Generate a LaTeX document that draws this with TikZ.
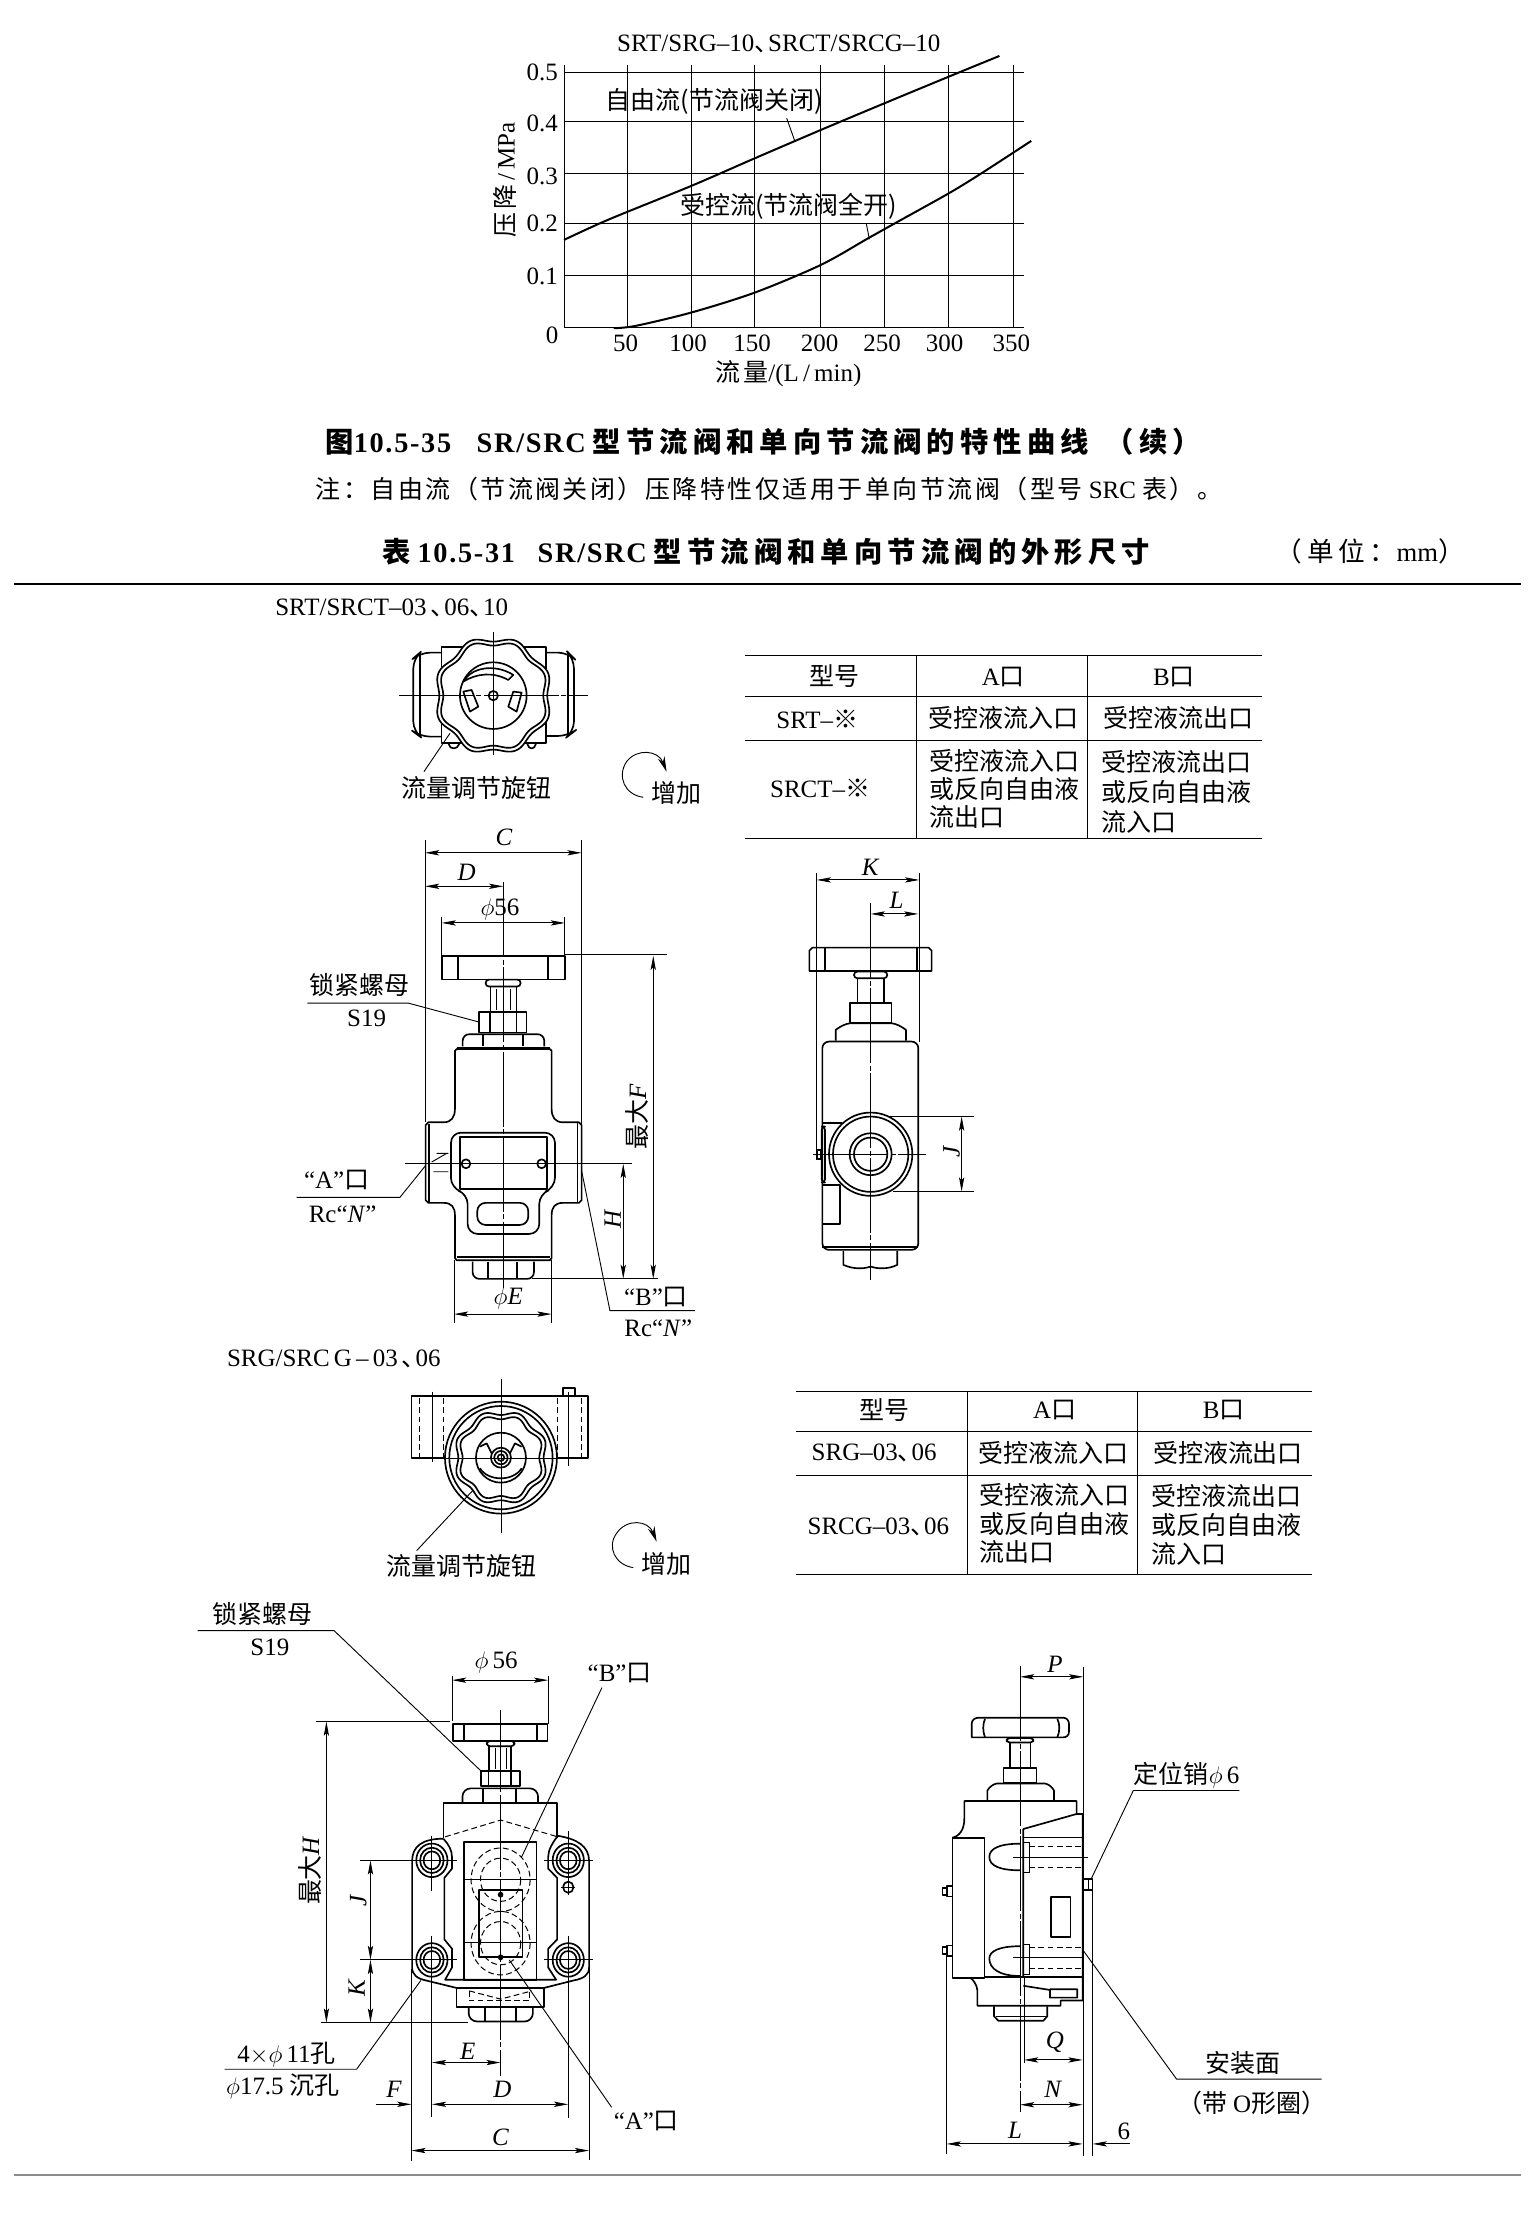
\documentclass[tikz,border=0pt]{standalone}
\usepackage{fontspec}
\setmainfont{Liberation Serif}
\newfontfamily\cjk{Noto Sans CJK SC}
\newfontfamily\cjkw[LetterSpace=18]{Noto Sans CJK SC}
\newfontfamily\cjkn[LetterSpace=10]{Noto Sans CJK SC}
\newfontfamily\latw[LetterSpace=6]{Liberation Serif}
\usetikzlibrary{arrows.meta}

\tikzset{
    outline/.style={line width=1pt, line join=round},
    hairline/.style={line width=0.55pt},
    centerline/.style={hairline, dash pattern=on 45pt off 1.5pt on 3pt off 1.5pt},
    hidden/.style={line width=0.6pt, dash pattern=on 3.5pt off 2pt},
    dimline/.style={hairline, <->},
    lbl/.style={font=\fontsize{15}{17.5}\selectfont, inner sep=0pt},
    chartview/.style={shift={(324.1,7)}, x=0.008385cm, y=-0.007035cm},
    topa/.style={shift={(175.9,415.1)}, x=0.007035cm, y=-0.007035cm},
    fronta/.style={shift={(197,576.9)}, x=0.007035cm, y=-0.00729cm},
    sidea/.style={shift={(548.8,598)}, x=0.007035cm, y=-0.007035cm},
    topb/.style={shift={(154.8,942.8)}, x=0.007035cm, y=-0.007035cm},
    frontb/.style={shift={(133.7,1125.7)}, x=0.007329cm, y=-0.007875cm},
    sideb/.style={shift={(647.3,1153.9)}, x=0.007035cm, y=-0.00738cm},
}
\newcommand{\zh}[1]{{\cjk #1}}
\newcommand{\dun}{\makebox[0.55em][l]{\zh{、}}}
\newcommand{\waveknob}[4]{%
    \draw[outline, fill=white, domain=0:360, samples=145]
        plot ({#1+(#3+#4*cos(8*(\x-22.5)))*cos(\x)},{#2+(#3+#4*cos(8*(\x-22.5)))*sin(\x)}) -- cycle;}

\begin{document}
\begin{tikzpicture}[x=0.03cm, y=-0.03cm, >={Stealth[length=3mm,width=1.1mm,inset=0.6mm]}]
    \useasboundingbox (0,0) rectangle (1080,1564.06);

    % Chart
    \begin{scope}[chartview]
        \foreach \x in {420,580,740,906,1066,1228,1390}
            \draw[hairline] (\x,165) -- (\x,952);
        \draw[hairline] (260,165) -- (260,952);
        \foreach \y in {187,334,492,640,797,952}
            \draw[hairline] (260,\y) -- (1416,\y);
        \draw[line width=1.2pt] plot[smooth] coordinates {(260,690) (370,630) (580,528) (740,445) (906,360) (1066,280) (1228,200) (1355,138)};
        \draw[line width=1.2pt] plot[smooth] coordinates {(385,955) (440,948) (580,908) (740,848) (906,765) (1025,685) (1100,635) (1228,550) (1310,490) (1435,393)};
        \draw[hairline] (820,325) -- (840,392);
        \draw[hairline] (1020,640) -- (1028,688);
        \node[lbl] (chart title) at (800,103) {SRT/SRG--10\dun SRCT/SRCG--10};
        \node[lbl] (free) at (638,275) {\zh{自由流(节流阀关闭)}};
        \node[lbl] (ctrl) at (825,590) {\zh{受控流(节流阀全开)}};
        \node[lbl] (p5) at (205,187) {0.5};
        \node[lbl] (p4) at (205,340) {0.4};
        \node[lbl] (p3) at (205,500) {0.3};
        \node[lbl] (p2) at (205,640) {0.2};
        \node[lbl] (p1) at (205,800) {0.1};
        \node[lbl] (p0) at (230,975) {0};
        \foreach \x/\v in {415/50,572/100,733/150,903/200,1060/250,1217/300,1385/350}
            \node[lbl] (q\v) at (\x,1000) {\v};
        \node[lbl, rotate=90] (yname) at (112,510) {{\cjkn 压降}\,/\,MPa};
        \node[lbl] (xname) at (825,1092) {{\cjkn 流量}/(L\,/\,min)};
    \end{scope}

    % Captions
    \node[font=\fontsize{17}{20}\selectfont\bfseries, inner sep=0pt] (cap) at (537,311)
        {{\cjkw 图}{\latw 10.5-35}\hspace{0.9em}{\latw SR/SRC} {\cjkw 型节流阀和单向节流阀的特性曲线}\hspace{0.6em}{\cjkw （续）}};
    \node[font=\fontsize{15}{18}\selectfont, inner sep=0pt] (note) at (541,344)
        {{\cjkn 注：自由流（节流阀关闭）压降特性仅适用于单向节流阀（型号} SRC {\cjkn 表）。}};
    \node[font=\fontsize{17}{20}\selectfont\bfseries, inner sep=0pt] (tabcap) at (539,388)
        {{\cjkw 表} {\latw 10.5-31}\hspace{0.8em}{\latw SR/SRC} {\cjkw 型节流阀和单向节流阀的外形尺寸}};
    \node[font=\fontsize{16}{19}\selectfont, inner sep=0pt] (unit) at (964,388) {{\cjkw （单位：}mm{\cjkw ）}};
    \draw[line width=1.3pt] (10,411) -- (1070,411);
    \draw[line width=1.2pt, black!45] (10,1530) -- (1070,1530);

    % Top view of the SRT valve
    \begin{scope}[topa]
        \draw[outline, rounded corners=6pt] (575,188) -- (510,188) -- (490,205) -- (490,425) -- (510,440) -- (575,440);
        \draw[outline, rounded corners=6pt] (888,188) -- (955,188) -- (972,205) -- (972,425) -- (955,438) -- (888,438);
        \draw[outline] (510,190) -- (510,438);
        \draw[outline] (955,190) -- (955,438);
        \draw[outline] (575,172) rectangle (888,460);
        \draw[outline] (596,462) .. controls (600,480) and (622,480) .. (628,462);
        \draw[outline] (832,462) .. controls (836,480) and (854,480) .. (858,462);
        \waveknob{730}{317}{170}{8}
        \waveknob{730}{317}{158}{8}
        \draw[outline] (730,317) circle (100);
        \draw[outline] (730,317) circle (14);
        \draw[outline] (640,275) .. controls (670,225) and (745,225) .. (790,255) -- (775,270) .. controls (730,245) and (680,250) .. cycle;
        \draw[outline] (640,305) -- (665,300) -- (685,350) -- (660,365) -- cycle;
        \draw[outline] (790,305) -- (815,308) -- (800,365) -- (775,350) -- cycle;
        \draw[centerline] (447,317) -- (1015,317);
        \draw[hairline] (730,127) -- (730,495);
        \draw[hairline] (522,545) -- (600,430);
        \draw[hairline, -{Stealth[length=3.2mm,width=1.5mm]}] (1180,622) .. controls (1125,615) and (1100,560) .. (1130,515) .. controls (1160,475) and (1225,480) .. (1250,545);
        \node[lbl, anchor=west] (srt) at (75,55) {SRT/SRCT--03\,\dun 06\dun 10};
        \node[lbl] (knob a) at (680,595) {\zh{流量调节旋钮}};
        \node[lbl] (inc a) at (1280,610) {\zh{增加}};
    \end{scope}

    % Port table of the SRT valve
    \draw[hairline] (524,461) -- (888,461) (524,490) -- (888,490) (524,521) -- (888,521) (524,590) -- (888,590);
    \draw[hairline] (645,461) -- (645,590) (765,461) -- (765,590);
    \node[lbl] (t1 head) at (587,476) {\zh{型号}};
    \node[lbl] (t1 a) at (706,476) {A\zh{口}};
    \node[lbl] (t1 b) at (826,476) {B\zh{口}};
    \node[lbl] (t1 srt) at (575,506) {SRT--\zh{※}};
    \node[lbl] (t1 srt a) at (706,505) {\zh{受控液流入口}};
    \node[lbl] (t1 srt b) at (829,505) {\zh{受控液流出口}};
    \node[lbl] (t1 srct) at (577,555) {SRCT--\zh{※}};
    \node[lbl, anchor=west, align=left, font=\fontsize{15}{17}\selectfont] (t1 srct a) at (654,555) {\zh{受控液流入口}\\\zh{或反向自由液}\\\zh{流出口}};
    \node[lbl, anchor=west, align=left, font=\fontsize{15}{18}\selectfont] (t1 srct b) at (775,557) {\zh{受控液流出口}\\\zh{或反向自由液}\\\zh{流入口}};

    % Front view of the SRT valve
    \begin{scope}[fronta]
        \draw[outline] (487,393) rectangle (855,462);
        \draw[outline] (535,393) -- (535,462) (805,393) -- (805,462);
        \draw[outline, rounded corners=2pt] (617,462) rectangle (722,482);
        \draw[outline] (632,482) -- (632,555) (710,482) -- (710,555);
        \draw[hairline] (650,490) -- (650,550) (692,490) -- (692,550);
        \draw[outline] (598,555) rectangle (740,615);
        \draw[outline] (630,555) -- (630,615) (710,555) -- (710,615);
        \draw[outline, rounded corners=4pt] (548,655) -- (548,620) -- (793,620) -- (793,655);
        \draw[outline] (610,620) -- (610,655) (730,620) -- (730,655);
        \draw[outline] (530,660) -- (810,660);
        \draw[outline] (525,668) -- (525,835) .. controls (525,860) and (515,875) .. (490,875) -- (445,875) -- (437,883) -- (437,1100) -- (445,1108) -- (490,1108) .. controls (515,1108) and (525,1120) .. (525,1145) -- (525,1268) -- (530,1274) -- (810,1274) -- (815,1268) -- (815,1145) .. controls (815,1120) and (825,1108) .. (850,1108) -- (897,1108) -- (905,1100) -- (905,883) -- (897,875) -- (850,875) .. controls (825,875) and (815,860) .. (815,835) -- (815,668) -- (810,663) -- (530,663) -- cycle;
        \draw[outline] (530,1265) -- (810,1265);
        \draw[outline] (447,880) -- (447,1105) (893,878) -- (893,1108);
        \draw[outline, rounded corners=4pt] (578,1278) -- (578,1328) -- (762,1328) -- (762,1278);
        \draw[outline] (625,1278) -- (625,1325) (712,1278) -- (712,1325);
        \draw[outline, rounded corners=6pt] (513,905) -- (825,905) -- (825,1065) -- (778,1082) -- (778,1198) -- (563,1198) -- (563,1082) -- (513,1065) -- cycle;
        \draw[outline] (540,918) rectangle (802,1068);
        \draw[outline, rounded corners=5pt] (592,1108) rectangle (745,1172);
        \draw[outline] (558,995) circle (13) (785,995) circle (13);
        \draw[hairline] (455,990) -- (500,965) (470,965) -- (505,965) (460,1018) -- (505,1018);
        \draw[centerline] (670,180) -- (670,1355);
        \draw[hairline] (375,995) -- (1055,995);
        % Dimensions
        \draw[hairline] (435,58) -- (435,875) (905,58) -- (905,880);
        \draw[dimline] (435,95) -- (905,95);
        \draw[dimline] (435,192) -- (670,192);
        \draw[hairline] (485,280) -- (485,393) (855,280) -- (855,393);
        \draw[dimline] (485,298) -- (855,298);
        \draw[hairline] (855,390) -- (1160,390) (755,1328) -- (1135,1328) (905,995) -- (1055,995);
        \draw[dimline] (1120,393) -- (1120,1328);
        \draw[dimline] (1030,995) -- (1030,1328);
        \draw[hairline] (522,1272) -- (522,1455) (815,1272) -- (815,1455);
        \draw[dimline] (522,1430) -- (815,1430);
        \draw[hairline] (82,530) -- (385,530) -- (598,585);
        \draw[hairline] (50,1092) -- (360,1092) -- (437,1000);
        \draw[hairline] (905,1015) -- (990,1420) -- (1245,1420);
        \node[lbl] (c a) at (672,50) {\textit{C}};
        \node[lbl] (d a) at (560,152) {\textit{D}};
        \node[lbl] (phi a) at (660,258) {$\phi$56};
        \node[lbl] (nut a) at (238,478) {\zh{锁紧螺母}};
        \node[lbl] (s a) at (260,575) {S19};
        \node[lbl] (port a) at (170,1042) {“A”\zh{口}};
        \node[lbl] (rc a) at (188,1140) {Rc“\textit{N}”};
        \node[lbl, rotate=90] (h a) at (998,1155) {\textit{H}};
        \node[lbl, rotate=90] (f a) at (1070,860) {\zh{最大}\textit{F}};
        \node[lbl] (e a) at (685,1385) {$\phi$\textit{E}};
        \node[lbl] (port b) at (1128,1380) {“B”\zh{口}};
        \node[lbl] (rc b) at (1135,1470) {Rc“\textit{N}”};
    \end{scope}

    % Side view of the SRT valve
    \begin{scope}[sidea]
        \draw[outline] (88,363) -- (88,302) -- (97,293) -- (446,293) -- (455,302) -- (455,363) -- cycle;
        \draw[outline] (135,293) -- (135,363) (412,293) -- (412,363);
        \draw[outline, rounded corners=2pt] (222,365) rectangle (322,385);
        \draw[outline] (232,385) -- (232,460) (312,385) -- (312,460);
        \draw[outline] (210,460) rectangle (335,518);
        \draw[outline] (167,572) -- (167,540) .. controls (180,530) and (195,522) .. (210,520) -- (335,520) .. controls (350,522) and (365,530) .. (378,540) -- (378,572);
        \draw[outline, rounded corners=4pt] (127,575) -- (415,575) -- (415,1200) -- (127,1200) -- cycle;
        \draw[outline] (127,1192) -- (415,1192);
        \draw[outline] (190,1203) -- (190,1245) .. controls (220,1258) and (250,1258) .. (272,1250) .. controls (295,1258) and (325,1258) .. (352,1245) -- (352,1203);
        \draw[outline] (272,800) -- (415,800) (340,1025) -- (415,1025);
        \draw[outline] (127,820) -- (185,820);
        \draw[outline, rounded corners=2pt] (125,830) rectangle (135,998);
        \draw[outline] (127,1005) -- (180,1005) -- (180,1122) -- (130,1122);
        \draw[outline] (112,900) rectangle (122,928);
        \draw[outline, fill=white] (272,913) circle (125);
        \draw[outline] (272,913) circle (113);
        \draw[outline] (272,913) circle (63);
        \draw[outline] (272,913) circle (50);
        \draw[centerline] (272,160) -- (272,1290);
        \draw[centerline] (100,913) -- (438,913);
        % Dimensions
        \draw[hairline] (110,68) -- (110,930) (418,68) -- (418,575);
        \draw[dimline] (110,90) -- (418,90);
        \draw[dimline] (272,192) -- (415,192);
        \draw[hairline] (415,800) -- (582,800) (415,1025) -- (582,1025);
        \draw[dimline] (545,800) -- (545,1025);
        \node[lbl] (k a) at (272,52) {\textit{K}};
        \node[lbl] (l a) at (350,150) {\textit{L}};
        \node[lbl, rotate=90] (j a) at (515,905) {\textit{J}};
    \end{scope}

    % Top view of the SRG valve
    \begin{scope}[topb]
        \draw[outline] (575,168) rectangle (1105,355);
        \draw[outline] (1030,168) -- (1030,143) -- (1065,143) -- (1065,168);
        \foreach \x in {600,672,1012,1085}
            \draw[hidden] (\x,175) -- (\x,350);
        \draw[centerline] (637,155) -- (637,365);
        \draw[centerline] (1047,155) -- (1047,378);
        \draw[outline, fill=white] (843,353) circle (168);
        \draw[outline] (843,353) circle (155);
        \waveknob{843}{353}{135}{7}
        \waveknob{843}{353}{122}{7}
        \draw[outline] (843,353) circle (75);
        \draw[outline] (843,353) circle (30);
        \draw[outline] (843,353) circle (20);
        \draw[outline] (843,353) circle (10);
        \draw[outline] (780,385) .. controls (805,425) and (880,425) .. (905,385);
        \draw[outline] (780,320) -- (800,310) -- (815,340);
        \draw[outline] (905,320) -- (885,310) -- (870,340);
        \draw[hairline] (843,118) -- (843,580);
        \draw[hairline] (675,355) -- (1010,355);
        \draw[hairline] (590,632) -- (760,450);
        \draw[hairline, -{Stealth[length=3.2mm,width=1.5mm]}] (1240,683) .. controls (1185,675) and (1160,620) .. (1190,580) .. controls (1220,535) and (1285,540) .. (1310,605);
        \node[lbl, anchor=west] (srg) at (20,58) {SRG/SRC\,G\,--\,03\,\dun 06};
        \node[lbl] (knob b) at (725,678) {\zh{流量调节旋钮}};
        \node[lbl] (inc b) at (1340,672) {\zh{增加}};
    \end{scope}

    % Port table of the SRG valve
    \draw[hairline] (560,979) -- (923,979) (560,1007) -- (923,1007) (560,1038) -- (923,1038) (560,1108) -- (923,1108);
    \draw[hairline] (681,979) -- (681,1108) (800,979) -- (800,1108);
    \node[lbl] (t2 head) at (622,992) {\zh{型号}};
    \node[lbl] (t2 a) at (742,992) {A\zh{口}};
    \node[lbl] (t2 b) at (861,992) {B\zh{口}};
    \node[lbl] (t2 srg) at (615,1022) {SRG--03\dun 06};
    \node[lbl] (t2 srg a) at (741,1022) {\zh{受控液流入口}};
    \node[lbl] (t2 srg b) at (864,1022) {\zh{受控液流出口}};
    \node[lbl] (t2 srcg) at (618,1074) {SRCG--03\dun 06};
    \node[lbl, anchor=west, align=left, font=\fontsize{15}{17}\selectfont] (t2 srcg a) at (689,1072) {\zh{受控液流入口}\\\zh{或反向自由液}\\\zh{流出口}};
    \node[lbl, anchor=west, align=left, font=\fontsize{15}{17.5}\selectfont] (t2 srcg b) at (810,1073) {\zh{受控液流出口}\\\zh{或反向自由液}\\\zh{流入口}};

    % Front view of the SRG valve
    \begin{scope}[frontb]
        \draw[outline] (758,332) rectangle (1030,378);
        \draw[outline] (790,332) -- (790,378) (1000,332) -- (1000,378);
        \draw[outline, rounded corners=2pt] (855,378) rectangle (935,392);
        \draw[outline] (862,392) -- (862,458) (925,392) -- (925,458);
        \draw[hairline] (880,398) -- (880,452) (912,398) -- (912,452);
        \draw[outline] (838,458) rectangle (950,498);
        \draw[outline] (860,458) -- (860,498) (925,458) -- (925,498);
        \draw[outline, rounded corners=5pt] (785,543) -- (785,505) -- (1003,505) -- (1003,543);
        \draw[outline] (845,505) -- (845,543) (940,505) -- (940,543);
        \draw[outline] (730,637) -- (730,545) -- (1058,545) -- (1058,637);
        \draw[hidden] (735,635) -- (895,590) -- (1060,635);
        \draw[outline] (730,640) .. controls (670,640) and (640,660) .. (640,700) -- (640,985) .. controls (640,1005) and (655,1015) .. (680,1020) -- (768,1040) -- (1020,1040) -- (1105,1020) .. controls (1135,1015) and (1150,1005) .. (1150,985) -- (1150,700) .. controls (1150,660) and (1115,640) .. (1058,632);
        \draw[outline] (730,640) .. controls (745,655) and (755,670) .. (755,690) -- (755,720) -- (733,745) -- (733,910) -- (755,935) -- (755,985) -- (735,1018) -- (1055,1018) -- (1032,985) -- (1032,935) -- (1058,910) -- (1058,745) -- (1032,720) -- (1032,690) .. controls (1032,670) and (1045,650) .. (1058,635);
        \draw[outline] (790,648) rectangle (998,1018);
        \draw[outline] (768,1040) -- (768,1092) -- (1020,1092) -- (1020,1040);
        \draw[hidden] (805,1048) -- (805,1075) -- (978,1075) -- (978,1048);
        \draw[hidden] (805,1048) -- (895,1070) -- (985,1048);
        \draw[outline, rounded corners=5pt] (803,1092) -- (803,1130) -- (988,1130) -- (988,1092);
        \draw[outline] (850,1092) -- (850,1130) (940,1092) -- (940,1130);
        \foreach \px/\py in {697/698,1090/698,697/965,1090/965} {
            \draw[outline] (\px,\py) circle (45);
            \draw[outline] (\px,\py) circle (34);
            \draw[outline] (\px,\py) circle (24);
        }
        \draw[outline] (1090,770) circle (15);
        \draw[hairline] (1070,770) -- (1110,770);
        \foreach \py in {750,920} {
            \draw[hidden] (895,\py) circle (85);
            \draw[hidden] (895,\py) circle (58);
            \draw[hairline] (792,\py-2) -- (998,\py-2);
        }
        \draw[outline] (832,778) rectangle (958,957);
        \fill (895,790) circle (8) (895,958) circle (8);
        \draw[centerline] (895,295) -- (895,1275);
        \draw[hairline] (1020,698) -- (1160,698) (1020,965) -- (1160,965) (630,698) -- (770,698) (630,965) -- (770,965);
        \draw[hairline] (697,632) -- (697,780) (697,900) -- (697,1385);
        \draw[hairline] (1090,620) -- (1090,790) (1090,900) -- (1090,1390);
        % Dimensions
        \draw[hairline] (755,205) -- (755,325) (1032,205) -- (1032,332);
        \draw[dimline] (755,215) -- (1032,215);
        \draw[hairline] (362,326) -- (750,326) (378,1133) -- (800,1133);
        \draw[dimline] (393,326) -- (393,1133);
        \draw[hairline] (490,698) -- (640,698) (490,965) -- (640,965);
        \draw[dimline] (520,698) -- (520,965);
        \draw[dimline] (520,965) -- (520,1133);
        \draw[dimline] (697,1240) -- (895,1240);
        \draw[dimline] (697,1352) -- (1090,1352);
        \draw[hairline, ->] (535,1352) -- (638,1352);
        \draw[hairline] (638,990) -- (638,1505) (1150,990) -- (1150,1500);
        \draw[dimline] (638,1476) -- (1150,1476);
        \draw[hairline] (22,82) -- (415,82) -- (838,458);
        \draw[hairline] (955,690) -- (1187,235);
        \draw[hairline] (920,965) -- (1215,1360);
        \draw[hairline] (100,1258) -- (480,1258) -- (665,1020);
        \node[lbl] (nut b) at (208,38) {\zh{锁紧螺母}};
        \node[lbl] (s b) at (230,128) {S19};
        \node[lbl] (phi b) at (882,168) {$\phi$\,56};
        \node[lbl] (port bb) at (1238,195) {“B”\zh{口}};
        \node[lbl, rotate=90] (h b) at (345,725) {\zh{最大}\textit{H}};
        \node[lbl, rotate=90] (j b) at (485,805) {\textit{J}};
        \node[lbl, rotate=90] (k b) at (480,1040) {\textit{K}};
        \node[lbl] (holes) at (278,1218) {4$\times\phi$\,11\zh{孔}};
        \node[lbl] (cbore) at (268,1305) {$\phi$17.5 \zh{沉孔}};
        \node[lbl] (e b) at (800,1210) {\textit{E}};
        \node[lbl] (f b) at (588,1312) {\textit{F}};
        \node[lbl] (d b) at (900,1312) {\textit{D}};
        \node[lbl] (c b) at (895,1440) {\textit{C}};
        \node[lbl] (port ab) at (1315,1398) {“A”\zh{口}};
    \end{scope}

    % Side view of the SRG valve
    \begin{scope}[sideb]
        \draw[outline] (155,278) -- (155,240) .. controls (155,228) and (165,222) .. (175,222) -- (430,222) .. controls (440,222) and (447,230) .. (447,240) -- (447,262) .. controls (447,272) and (440,278) .. (430,278) -- cycle;
        \draw[outline] (195,225) .. controls (188,240) and (188,262) .. (195,278) (412,225) .. controls (420,240) and (420,262) .. (412,278);
        \draw[outline, rounded corners=2pt] (260,280) rectangle (340,293);
        \draw[outline] (270,293) -- (270,365) (332,293) -- (332,365);
        \draw[outline] (250,365) rectangle (350,408);
        \draw[outline] (202,458) -- (202,430) .. controls (210,418) and (220,412) .. (230,410) -- (375,410) .. controls (385,412) and (395,418) .. (402,430) -- (402,458);
        \draw[outline] (470,497) -- (470,460) -- (133,460) -- (133,510) .. controls (133,540) and (120,560) .. (97,565);
        \draw[outline] (97,565) -- (193,565) -- (193,965) -- (97,965) -- cycle;
        \draw[outline] (310,960) -- (310,540) -- (470,497) -- (488,497) -- (488,1030) -- (422,1030) -- (422,1045) -- (172,1045) -- (172,1000) .. controls (170,985) and (160,970) .. (150,965);
        \draw[outline] (193,962) -- (488,962);
        \draw[outline] (310,988) -- (390,1000) -- (390,1022) -- (472,1022) -- (472,998) -- (390,998);
        \draw[outline] (222,1047) -- (222,1075) -- (235,1088) -- (370,1088) -- (382,1075) -- (382,1047);
        \draw[hairline] (228,1075) -- (378,1075);
        \draw[outline] (300,582) .. controls (240,582) and (208,595) .. (208,620) .. controls (208,645) and (240,658) .. (300,658);
        \draw[outline] (300,875) .. controls (240,875) and (208,888) .. (208,910) .. controls (208,940) and (240,960) .. (300,960);
        \draw[hairline] (312,578) -- (328,578) -- (328,665) -- (312,665);
        \draw[hairline] (312,870) -- (328,870) -- (328,955) -- (312,955);
        \foreach \py in {590,650,880,940}
            \draw[hidden] (328,\py) -- (488,\py);
        \draw[hairline] (312,565) -- (488,565);
        \draw[centerline] (280,620) -- (510,620);
        \draw[centerline] (280,908) -- (488,908);
        \draw[outline] (393,735) rectangle (452,848);
        \draw[outline] (490,683) rectangle (518,715);
        \draw[hairline] (505,683) -- (505,715);
        \foreach \py in {718,888} {
            \draw[outline] (67,\py-10) rectangle (80,\py+10);
            \draw[outline] (80,\py-15) rectangle (97,\py+15);
        }
        \draw[centerline] (300,75) -- (300,1350);
        % Dimensions
        \draw[hairline] (490,78) -- (490,1475) (518,715) -- (518,1475) (80,900) -- (80,1470) (312,960) -- (312,1210);
        \draw[dimline] (300,105) -- (490,105);
        \draw[dimline] (312,1200) -- (488,1200);
        \draw[dimline] (300,1328) -- (488,1328);
        \draw[dimline] (80,1440) -- (488,1440);
        \draw[hairline, ->] (630,1440) -- (518,1440);
        \draw[hairline] (515,680) -- (640,430) -- (958,430);
        \draw[hairline] (488,885) -- (770,1255) -- (1205,1255);
        \node[lbl] (p c) at (405,68) {\textit{P}};
        \node[lbl] (pin) at (800,385) {\zh{定位销}$\phi$\,6};
        \node[lbl] (face) at (970,1210) {\zh{安装面}};
        \node[lbl] (oring) at (995,1322) {\zh{（带} O\zh{形圈）}};
        \node[lbl] (q c) at (405,1150) {\textit{Q}};
        \node[lbl] (n c) at (400,1285) {\textit{N}};
        \node[lbl] (l c) at (285,1400) {\textit{L}};
        \node[lbl] (six) at (612,1405) {6};
    \end{scope}
\end{tikzpicture}
\end{document}
